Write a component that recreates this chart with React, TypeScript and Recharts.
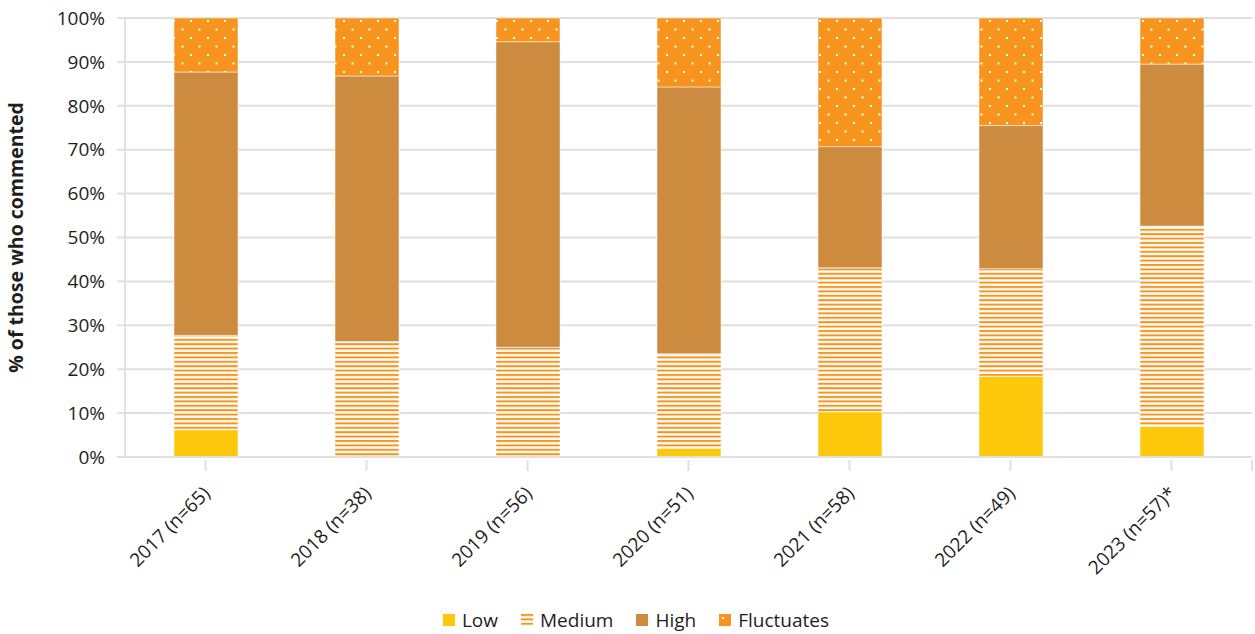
import React from 'react';
import { BarChart, Bar, XAxis, YAxis, CartesianGrid, Legend, Label } from 'recharts';

// Share of respondents by level, per survey year
const categories = ['2017 (n=65)', '2018 (n=38)', '2019 (n=56)', '2020 (n=51)', '2021 (n=58)', '2022 (n=49)', '2023 (n=57)*'];
const low = [6.2, 0, 0, 2.0, 10.3, 18.4, 7.0];
const medium = [21.5, 26.3, 25.0, 21.5, 32.8, 24.5, 45.6];
const high = [60.0, 60.5, 69.6, 60.8, 27.6, 32.6, 36.9];
const fluctuates = [12.3, 13.2, 5.4, 15.7, 29.3, 24.5, 10.5];
const yTicks = [0, 10, 20, 30, 40, 50, 60, 70, 80, 90, 100];

const data = categories.map((name, i) => ({
  name,
  Low: low[i],
  Medium: medium[i],
  High: high[i],
  Fluctuates: fluctuates[i],
}));

const FONT = '"Open Sans", "Noto Sans", sans-serif';
const TEXT = '#1e1e1e';
const GRID = '#e3dfdc';
const YELLOW = '#fdc80c';
const ORANGE = '#f7941d';
const BROWN = '#cd8b3f';

const W = 1255;
const H = 634;
const MARGIN = { top: 18, right: 3, left: 0, bottom: 0 };
const Y_AXIS_W = 125;
const BAND = (W - MARGIN.right - MARGIN.left - Y_AXIS_W) / categories.length;

const Patterns = () => (
  <svg width={0} height={0} style={{ position: 'absolute' }}>
    <defs>
      <pattern id="stripes" patternUnits="userSpaceOnUse" width={8} height={4.4}>
        <rect width={8} height={4.4} fill="#ffffff" />
        <rect y={0} width={8} height={2} fill={ORANGE} />
      </pattern>
      <pattern id="dots" patternUnits="userSpaceOnUse" width={17} height={17}>
        <rect width={17} height={17} fill={ORANGE} />
        <rect x={3} y={3} width={2} height={2} fill="#ffffff" />
        <rect x={11.5} y={11.5} width={2} height={2} fill="#ffffff" />
      </pattern>
    </defs>
  </svg>
);

const XTick = (props: any) => {
  const { x, y, payload, index } = props;
  const tx = x + 2;
  const ty = y + 26;
  return (
    <g>
      <line x1={x} x2={x} y1={y - 5} y2={y + 6} stroke={GRID} strokeWidth={2} />
      {index === categories.length - 1 && (
        <line x1={x + BAND / 2} x2={x + BAND / 2} y1={y - 5} y2={y + 6} stroke={GRID} strokeWidth={2} />
      )}
      <text
        x={tx}
        y={ty}
        transform={`rotate(-45 ${tx} ${ty})`}
        textAnchor="end"
        dominantBaseline="middle"
        fontFamily={FONT}
        fontSize={19}
        fill={TEXT}
      >
        {payload.value}
      </text>
    </g>
  );
};

const legendItems = [
  { name: 'Low', fill: YELLOW },
  { name: 'Medium', fill: 'url(#stripes)' },
  { name: 'High', fill: BROWN },
  { name: 'Fluctuates', fill: 'url(#dots)' },
];

const LegendContent = () => (
  <div
    style={{
      display: 'flex',
      justifyContent: 'center',
      alignItems: 'center',
      gap: 23,
      height: 28,
      paddingLeft: 20,
      fontFamily: FONT,
      fontSize: 19,
      color: TEXT,
    }}
  >
    {legendItems.map((it) => (
      <div key={it.name} style={{ display: 'flex', alignItems: 'center', gap: 7 }}>
        <svg width={12} height={12}>
          <rect width={12} height={12} fill={it.fill} />
        </svg>
        <span>{it.name}</span>
      </div>
    ))}
  </div>
);

const YTitle = (props: any) => {
  const vb = props.viewBox || { x: 0, y: 0, width: 0, height: 0 };
  const cx = vb.x + 18;
  const cy = vb.y + vb.height / 2;
  return (
    <text
      x={cx}
      y={cy}
      transform={`rotate(-90 ${cx} ${cy})`}
      textAnchor="middle"
      dominantBaseline="middle"
      fontFamily={FONT}
      fontSize={19.5}
      fontWeight={700}
      fill={TEXT}
    >
      % of those who commented
    </text>
  );
};

export default function App() {
  return (
    <div style={{ position: 'absolute', left: 0, top: 0, background: '#fff' }}>
      <Patterns />
      <BarChart width={W} height={H} data={data} margin={MARGIN} barSize={64}>
        <CartesianGrid vertical={false} stroke={GRID} strokeWidth={2} />
        <XAxis
          dataKey="name"
          height={149}
          interval={0}
          axisLine={{ stroke: GRID, strokeWidth: 2 }}
          tickLine={false}
          tick={<XTick />}
        />
        <YAxis
          width={Y_AXIS_W}
          domain={[0, 100]}
          ticks={yTicks}
          interval={0}
          tickFormatter={(v: number) => `${v}%`}
          axisLine={{ stroke: GRID, strokeWidth: 2 }}
          tickLine={{ stroke: GRID, strokeWidth: 2 }}
          tickSize={8}
          tickMargin={12}
          tick={{ fontFamily: FONT, fontSize: 19, fill: TEXT }}
        >
          <Label content={<YTitle />} />
        </YAxis>
        <Legend verticalAlign="bottom" height={28} content={<LegendContent />} />
        <Bar dataKey="Low" stackId="a" fill={YELLOW} stroke="#ffffff" strokeOpacity={0.5} strokeWidth={1} isAnimationActive={false} />
        <Bar dataKey="Medium" stackId="a" fill="url(#stripes)" stroke="#ffffff" strokeOpacity={0.5} strokeWidth={1} isAnimationActive={false} />
        <Bar dataKey="High" stackId="a" fill={BROWN} stroke="#ffffff" strokeOpacity={0.5} strokeWidth={1} isAnimationActive={false} />
        <Bar dataKey="Fluctuates" stackId="a" fill="url(#dots)" stroke="#ffffff" strokeOpacity={0.5} strokeWidth={1} isAnimationActive={false} />
      </BarChart>
    </div>
  );
}
